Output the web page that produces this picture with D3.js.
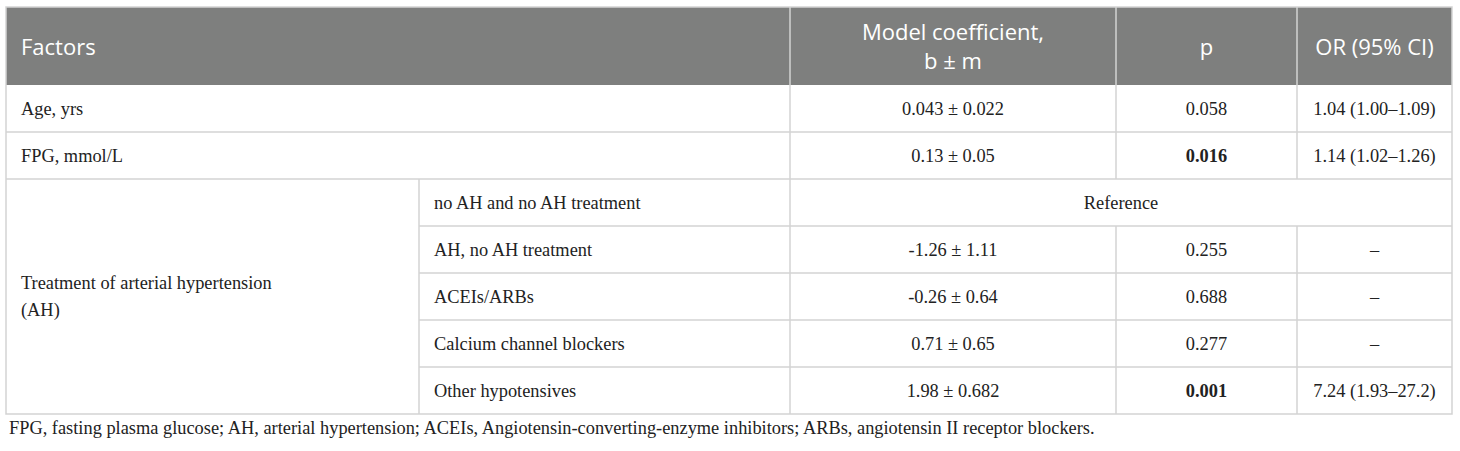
<!DOCTYPE html>
<html>
<head>
<meta charset="utf-8">
<script src="https://cdn.jsdelivr.net/npm/d3@7"></script>
<style>
  body { margin: 0; background: #fff; }
</style>
</head>
<body>
<div id="chart"></div>
<script>
// table content
const headers = ["Factors", "Model coefficient,\nb \u00b1 m", "p", "OR (95% CI)"];
const factors = ["Age, yrs", "FPG, mmol/L", "Treatment of arterial hypertension\n(AH)"];
const subFactors = ["no AH and no AH treatment", "AH, no AH treatment", "ACEIs/ARBs", "Calcium channel blockers", "Other hypotensives"];
const coefs = ["0.043 \u00b1 0.022", "0.13 \u00b1 0.05", "Reference", "-1.26 \u00b1 1.11", "-0.26 \u00b1 0.64", "0.71 \u00b1 0.65", "1.98 \u00b1 0.682"];
const pvals = ["0.058", "0.016", null, "0.255", "0.688", "0.277", "0.001"];
const ors = ["1.04 (1.00\u20131.09)", "1.14 (1.02\u20131.26)", null, "\u2013", "\u2013", "\u2013", "7.24 (1.93\u201327.2)"];
const boldP = [false, true, false, false, false, false, true];
const footnote = "FPG, fasting plasma glucose; AH, arterial hypertension; ACEIs, Angiotensin-converting-enzyme inhibitors; ARBs, angiotensin II receptor blockers.";

const width = 1460, height = 451;
const colEdges = [6, 419, 790, 1116, 1297, 1452];
const tableTop = 7, headBottom = 85, tableBottom = 414;
const lineColor = "#d3d3d3";
const serif = "'Liberation Serif', 'Times New Roman', serif";
const sans = "'Open Sans', 'Noto Sans', sans-serif";

const svg = d3.select("#chart").append("svg")
    .attr("width", width).attr("height", height);

// footnote first: its width sets the serif size used in the body too
const foot = svg.append("text")
  .attr("x", 9).attr("y", 434)
  .attr("font-family", serif)
  .attr("font-size", 17)
  .attr("fill", "#222")
  .text(footnote);
const fs = Math.min(19, 17 * 1086 / foot.node().getComputedTextLength());
foot.attr("font-size", fs);

const rowIdx = d3.range(coefs.length);
const y = d3.scaleBand().domain(rowIdx).range([headBottom, tableBottom]);

// header
svg.append("rect")
    .attr("x", colEdges[0]).attr("y", tableTop)
    .attr("width", colEdges[5] - colEdges[0]).attr("height", headBottom - tableTop)
    .attr("fill", "#7e7f7e");

const headCells = [
  {text: headers[0], x: colEdges[0] + 15, anchor: "start"},
  {text: headers[1], x: (colEdges[2] + colEdges[3]) / 2, anchor: "middle"},
  {text: headers[2], x: (colEdges[3] + colEdges[4]) / 2, anchor: "middle"},
  {text: headers[3], x: (colEdges[4] + colEdges[5]) / 2, anchor: "middle"}
];
const headMid = (tableTop + headBottom) / 2 + 1;
headCells.forEach(c => {
  const lines = c.text.split("\n");
  const t = svg.append("text")
      .attr("x", c.x)
      .attr("text-anchor", c.anchor)
      .attr("fill", "#fff")
      .attr("font-family", sans)
      .attr("font-size", 22);
  lines.forEach((l, i) => {
    t.append("tspan")
      .attr("x", c.x)
      .attr("y", headMid + (i - (lines.length - 1) / 2) * 29)
      .attr("dy", "0.35em")
      .text(l);
  });
});

// grid lines
const g = svg.append("g").attr("stroke", lineColor).attr("stroke-width", 1.5);
rowIdx.slice(1).forEach(i => {
  const x0 = i >= 3 ? colEdges[1] : colEdges[0];
  g.append("line").attr("x1", x0).attr("x2", colEdges[5])
    .attr("y1", y(i)).attr("y2", y(i));
});
// verticals
g.append("line").attr("x1", colEdges[1]).attr("x2", colEdges[1])
  .attr("y1", y(2)).attr("y2", tableBottom);
g.append("line").attr("x1", colEdges[2]).attr("x2", colEdges[2])
  .attr("y1", tableTop).attr("y2", tableBottom);
[3, 4].forEach(c => {
  g.append("line").attr("x1", colEdges[c]).attr("x2", colEdges[c])
    .attr("y1", tableTop).attr("y2", y(2));
  g.append("line").attr("x1", colEdges[c]).attr("x2", colEdges[c])
    .attr("y1", y(3)).attr("y2", tableBottom);
});
// outer border
g.append("rect")
  .attr("x", colEdges[0]).attr("y", tableTop)
  .attr("width", colEdges[5] - colEdges[0]).attr("height", tableBottom - tableTop)
  .attr("fill", "none");

// body text
const body = svg.append("g")
    .attr("font-family", serif)
    .attr("font-size", fs)
    .attr("fill", "#222");

const mid = i => y(i) + y.bandwidth() / 2;

// factor labels
[0, 1].forEach(i => {
  body.append("text").attr("x", colEdges[0] + 15).attr("y", mid(i)).attr("dy", "0.35em")
    .text(factors[i]);
});
{
  const lines = factors[2].split("\n");
  const cy = (y(2) + tableBottom) / 2;
  const t = body.append("text");
  lines.forEach((l, i) => {
    t.append("tspan").attr("x", colEdges[0] + 15)
      .attr("y", cy + (i - (lines.length - 1) / 2) * 27)
      .attr("dy", "0.35em").text(l);
  });
}
subFactors.forEach((s, j) => {
  body.append("text").attr("x", colEdges[1] + 15).attr("y", mid(j + 2)).attr("dy", "0.35em")
    .text(s);
});

rowIdx.forEach(i => {
  const isRef = pvals[i] === null;
  body.append("text")
    .attr("x", isRef ? (colEdges[2] + colEdges[5]) / 2 : (colEdges[2] + colEdges[3]) / 2)
    .attr("y", mid(i)).attr("dy", "0.35em")
    .attr("text-anchor", "middle")
    .text(coefs[i]);
  if (!isRef) {
    body.append("text")
      .attr("x", (colEdges[3] + colEdges[4]) / 2)
      .attr("y", mid(i)).attr("dy", "0.35em")
      .attr("text-anchor", "middle")
      .attr("font-weight", boldP[i] ? "bold" : null)
      .text(pvals[i]);
    body.append("text")
      .attr("x", (colEdges[4] + colEdges[5]) / 2)
      .attr("y", mid(i)).attr("dy", "0.35em")
      .attr("text-anchor", "middle")
      .text(ors[i]);
  }
});
</script>
</body>
</html>
